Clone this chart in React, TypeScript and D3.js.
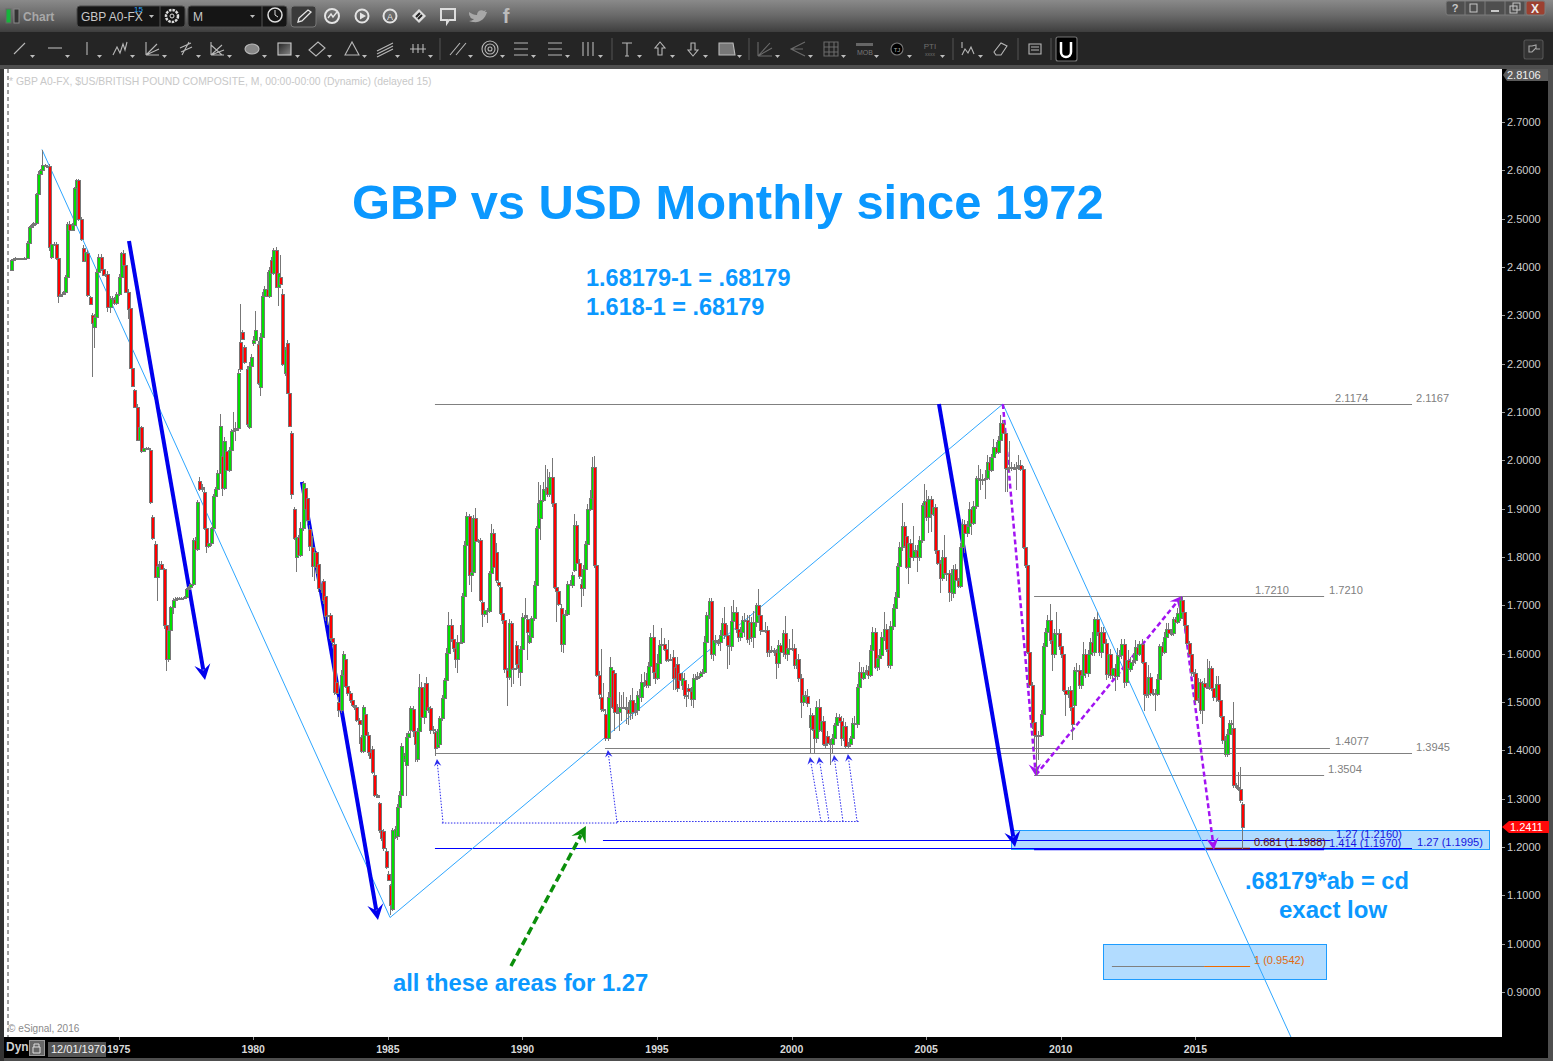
import React from "react";
import * as d3 from "d3";

// Monthly closes, Jan 1971 .. Oct 2016
const closes: number[] = [
  2.4145,2.416,2.418,2.418,2.417,2.418,2.419,2.45,2.482,2.487,2.49,2.551,
  2.592,2.6,2.611,2.61,2.61,2.442,2.448,2.447,2.418,2.34,2.345,2.348,
  2.379,2.489,2.477,2.487,2.563,2.58,2.4987,2.457,2.413,2.432,2.342,2.323,
  2.285,2.297,2.39,2.421,2.395,2.384,2.386,2.317,2.335,2.333,2.325,2.344,
  2.38,2.428,2.404,2.349,2.314,2.192,2.154,2.11,2.042,2.07,2.019,2.025,
  2.026,2.026,1.914,1.839,1.759,1.781,1.786,1.775,1.659,1.588,1.649,1.697,
  1.712,1.714,1.716,1.716,1.716,1.718,1.733,1.737,1.744,1.836,1.816,1.914,
  1.94,1.945,1.861,1.823,1.828,1.86,1.926,1.94,1.974,2.072,1.942,2.04,
  1.98,2.021,2.06,2.063,2.066,2.18,2.188,2.252,2.204,2.075,2.195,2.214,
  2.25,2.27,2.16,2.256,2.34,2.354,2.34,2.393,2.387,2.435,2.359,2.387,
  2.365,2.2,2.23,2.14,2.071,1.93,1.839,1.842,1.804,1.859,1.954,1.9,
  1.877,1.822,1.781,1.81,1.78,1.735,1.733,1.711,1.678,1.68,1.632,1.625,
  1.521,1.519,1.483,1.556,1.6,1.533,1.518,1.505,1.494,1.49,1.463,1.455,
  1.399,1.489,1.432,1.397,1.385,1.356,1.307,1.304,1.235,1.218,1.197,1.158,
  1.132,1.08,1.235,1.238,1.283,1.307,1.408,1.39,1.427,1.435,1.487,1.44,
  1.414,1.439,1.532,1.469,1.532,1.483,1.49,1.442,1.445,1.404,1.439,1.466,
  1.509,1.545,1.602,1.659,1.63,1.611,1.59,1.624,1.625,1.719,1.825,1.885,
  1.763,1.77,1.88,1.834,1.835,1.711,1.683,1.69,1.689,1.766,1.85,1.78,
  1.752,1.742,1.685,1.67,1.569,1.551,1.663,1.568,1.57,1.578,1.57,1.61,
  1.676,1.679,1.645,1.638,1.673,1.742,1.859,1.911,1.918,1.94,1.94,1.93,
  1.965,1.911,1.738,1.73,1.703,1.621,1.683,1.683,1.745,1.745,1.763,1.866,
  1.787,1.76,1.735,1.776,1.826,1.9,1.923,1.987,1.783,1.556,1.517,1.485,
  1.485,1.425,1.511,1.572,1.49,1.48,1.48,1.49,1.49,1.49,1.485,1.477,
  1.504,1.48,1.483,1.514,1.51,1.542,1.542,1.535,1.574,1.634,1.563,1.55,
  1.58,1.618,1.62,1.61,1.587,1.59,1.59,1.549,1.55,1.53,1.545,1.549,
  1.514,1.515,1.522,1.507,1.549,1.55,1.554,1.559,1.563,1.625,1.68,1.71,
  1.6,1.628,1.625,1.625,1.639,1.663,1.639,1.618,1.615,1.668,1.687,1.652,
  1.635,1.645,1.67,1.669,1.63,1.666,1.635,1.666,1.7,1.68,1.649,1.65,
  1.648,1.604,1.607,1.607,1.604,1.58,1.618,1.604,1.642,1.6,1.612,1.61,
  1.611,1.576,1.59,1.55,1.5,1.514,1.512,1.497,1.473,1.445,1.425,1.49,
  1.443,1.461,1.414,1.414,1.416,1.413,1.425,1.452,1.47,1.461,1.425,1.451,
  1.41,1.413,1.425,1.456,1.455,1.532,1.563,1.55,1.563,1.566,1.556,1.607,
  1.645,1.573,1.592,1.597,1.634,1.652,1.609,1.576,1.658,1.694,1.718,1.782,
  1.821,1.864,1.823,1.78,1.83,1.8,1.815,1.815,1.8,1.835,1.907,1.916,
  1.882,1.919,1.89,1.904,1.815,1.788,1.756,1.8,1.766,1.766,1.728,1.765,
  1.776,1.752,1.74,1.821,1.868,1.849,1.865,1.899,1.871,1.905,1.963,1.962,
  1.96,1.961,1.964,1.996,1.98,2.006,2.027,2.018,2.043,2.078,2.056,1.985,
  1.985,1.986,1.985,1.984,1.987,1.99,1.983,1.821,1.783,1.604,1.536,1.456,
  1.431,1.43,1.432,1.475,1.616,1.645,1.67,1.628,1.6,1.642,1.642,1.616,
  1.6,1.525,1.517,1.525,1.49,1.454,1.566,1.566,1.535,1.555,1.6,1.559,
  1.6,1.624,1.604,1.671,1.645,1.604,1.645,1.623,1.558,1.6,1.556,1.57,
  1.553,1.597,1.597,1.621,1.542,1.587,1.57,1.583,1.587,1.613,1.6,1.621,
  1.583,1.516,1.516,1.551,1.518,1.518,1.517,1.547,1.616,1.604,1.635,1.652,
  1.642,1.642,1.671,1.666,1.685,1.711,1.687,1.66,1.622,1.6,1.563,1.56,
  1.504,1.542,1.483,1.539,1.532,1.532,1.57,1.53,1.511,1.538,1.504,1.471,
  1.421,1.421,1.434,1.457,1.456,1.328,1.325,1.32,1.297,1.2411,
];

// Upper wick length of each candle, in thousandths of a dollar
const wickUp: number[] = [
  3,2,2,1,1,1,2,3,3,2,3,3, 6,3,31,2,2,3,18,3,5,3,8,3,
  4,5,6,5,3,2,3,5,5,4,5,4, 3,5,5,6,5,4,8,6,5,5,5,5,
  6,4,8,3,5,3,3,3,6,4,2,2, 2,2,3,5,8,3,5,6,3,3,2,2,
  4,3,2,2,2,2,3,3,3,3,5,3, 8,6,5,3,4,3,4,4,5,24,5,8,
  5,6,4,36,14,8,80,4,3,5,8,5, 8,40,6,8,8,6,36,8,6,5,6,12,
  46,10,5,6,4,4,4,5,3,14,3,8, 8,10,24,7,3,5,10,5,8,3,5,3,
  4,3,10,10,6,5,3,5,3,5,3,3, 5,5,10,6,5,8,4,3,3,3,3,5,
  5,3,5,5,5,8,8,4,8,5,5,6, 8,8,26,10,8,11,8,5,5,5,5,5,
  5,5,10,27,12,6,6,15,34,6,8,8, 5,5,7,22,3,4,5,3,5,5,19,8,
  18,8,8,5,5,5,8,5,15,8,5,5, 8,36,5,8,5,8,5,45,30,15,50,38,
  10,40,5,5,6,8,6,8,6,8,6,23, 8,8,10,8,7,10,15,20,22,10,8,98,
  55,10,10,22,6,8,15,30,25,30,20,15, 10,25,15,8,12,15,20,15,8,8,25,15,
  20,10,34,12,10,38,10,14,10,15,18,10, 15,10,10,10,8,8,8,5,6,12,6,6,
  5,20,10,5,10,10,33,20,15,30,25,10, 15,10,8,15,10,15,10,22,5,33,8,10,
  15,10,5,8,5,5,10,5,8,35,12,18, 41,8,10,10,8,8,8,15,15,5,8,12,
  16,15,10,10,10,8,8,5,8,5,10,15, 8,5,5,10,15,5,20,10,10,10,8,10,
  10,8,8,12,10,34,10,10,10,8,10,5, 10,47,8,8,8,8,50,10,10,8,5,36,
  22,8,8,8,5,5,5,15,46,8,8,10, 8,10,5,8,10,8,10,15,5,10,5,27,
  20,10,15,15,10,8,18,10,8,15,5,5, 20,55,10,8,10,22,10,5,8,5,5,5,
  5,5,8,8,6,8,10,33,8,10,45,10, 15,8,6,6,8,8,6,15,10,10,25,10,
  8,8,20,5,15,10,10,10,8,10,10,10, 8,15,10,10,10,8,20,10,15,15,8,5,
  10,10,10,25,8,8,8,10,5,8,10,12, 12,10,5,5,10,8,6,8,6,5,5,5,
  8,8,5,5,10,58,15,5,25,15,15,5, 5,8,10,5,5,52,5,30,45,5,
];

// Lower wick length of each candle, in thousandths of a dollar
const wickDown: number[] = [
  1,1,1,1,1,1,1,1,1,1,1,3, 3,3,2,1,1,8,3,1,3,14,3,3,
  3,22,5,3,3,3,3,3,3,3,5,2, 112,43,3,3,3,3,5,10,12,3,3,3,
  3,5,3,3,22,3,3,2,3,3,3,2, 2,2,5,3,3,50,2,2,8,23,5,5,
  15,3,2,2,2,2,3,3,3,4,5,3, 3,5,5,15,5,5,3,3,3,3,15,3,
  3,5,8,27,24,5,5,4,4,5,5,3, 5,5,5,19,3,3,3,5,3,3,3,40,
  3,4,6,3,3,10,4,32,4,4,5,5, 8,10,22,32,15,8,8,8,10,18,5,10,
  6,5,15,5,5,5,5,8,5,6,5,41, 5,5,6,8,3,5,3,3,5,5,5,3,
  3,20,3,5,8,5,5,8,65,5,8,12, 38,8,10,12,15,5,5,8,8,15,3,8,
  5,8,38,8,5,8,20,30,5,5,5,6, 20,36,5,5,5,5,28,8,26,5,5,5,
  5,5,5,8,8,59,5,36,30,12,20,30, 5,5,58,5,5,5,5,8,45,5,5,5,
  5,8,5,64,5,18,20,8,6,6,6,5, 5,5,38,15,5,5,5,5,5,5,10,5,
  5,5,5,10,5,40,5,40,30,5,30,25, 15,15,8,10,5,10,10,5,5,5,15,12,
  5,5,5,5,5,5,5,25,25,10,15,10, 8,25,15,15,20,5,5,5,5,5,15,8,
  12,15,30,10,20,10,8,50,38,10,10,10, 10,8,10,35,8,15,10,24,10,8,10,5,
  5,10,10,6,8,33,10,8,10,10,15,5, 5,8,8,8,34,8,8,8,53,5,31,10,
  5,5,5,10,5,43,18,10,10,5,17,5, 8,5,5,5,5,8,17,8,5,8,8,5,
  5,5,8,25,8,8,5,5,8,8,5,5, 5,8,5,5,35,5,8,8,31,8,5,5,
  8,33,38,5,8,5,30,5,5,15,22,20, 10,5,5,5,5,40,8,10,25,5,5,5,
  22,10,42,5,20,5,5,5,5,5,5,50, 51,10,8,5,46,8,5,5,5,5,8,12,
  30,80,50,5,5,8,8,8,35,8,8,8, 8,5,45,8,8,32,5,5,8,8,8,10,
  8,8,8,8,8,8,12,8,12,8,8,8, 31,8,8,8,14,8,8,5,8,8,8,5,
  5,34,8,8,5,5,36,5,5,8,5,5, 8,5,5,8,5,5,8,8,5,5,10,8,
  8,10,8,28,5,5,8,8,8,10,5,5, 8,5,5,8,8,5,5,5,5,46,
];

// Where an open differs from the previous close (gaps seen in the picture)
const openGaps: [number, number][] = [
  [18,2.42],[32,2.44],[34,2.43],[35,2.337],[36,2.301],[37,2.276],[53,2.316],[55,2.145],
  [62,2.022],[63,1.882],[64,1.826],[84,1.958],[86,1.935],[94,2.01],[96,2.02],[102,2.244],
  [103,2.266],[104,2.235],[105,2.19],[106,2.07],[108,2.242],[110,2.24],[111,2.152],[116,2.414],
  [120,2.379],[121,2.345],[122,2.18],[123,2.243],[125,2.056],[126,1.9],[127,1.8],[131,1.942],
  [132,1.923],[133,1.857],[134,1.82],[135,1.782],[136,1.81],[137,1.785],[139,1.75],[140,1.72],
  [144,1.621],[145,1.542],[146,1.501],[147,1.483],[149,1.588],[156,1.427],[158,1.476],[161,1.402],
  [162,1.349],[164,1.29],[166,1.234],[167,1.192],[168,1.145],[169,1.121],[170,1.071],[171,1.221],
  [172,1.222],[175,1.383],[176,1.37],[178,1.442],[179,1.485],[181,1.383],[185,1.54],[187,1.487],
  [189,1.438],[190,1.407],[191,1.414],[210,1.707],[216,1.81],[217,1.749],[218,1.738],[221,1.566],
  [225,1.618],[227,1.563],[230,1.672],[231,1.625],[232,1.635],[236,1.88],[239,1.945],[245,1.694],
  [250,1.742],[251,1.773],[254,1.745],[263,1.511],[265,1.475],[266,1.425],[268,1.566],[269,1.559],
  [283,1.545],[295,1.594],[296,1.573],[297,1.578],[298,1.56],[299,1.535],[300,1.545],[302,1.528],
  [319,1.639],[329,1.632],[356,1.448],[364,1.43],[371,1.425],[399,1.843],[420,1.725],[456,1.459],
  [474,1.494],[478,1.556],[499,1.568],[521,1.673],[528,1.56],[529,1.508],[531,1.483],[541,1.392],
  [542,1.392],[545,1.447],[549,1.288],
];

const priceTicks = [2.7,2.6,2.5,2.4,2.3,2.2,2.1,2.0,1.9,1.8,1.7,1.6,1.5,1.4,1.3,1.2,1.1,1.0,0.9];
const yearTicks = [1975,1980,1985,1990,1995,2000,2005,2010,2015];

// Horizontal levels as [price, first month, last month], months counted from Jan 1971
const greyLevels: [number, number, number][] = [
  [2.1174,189,624.6],[1.7195,456.1,585.4],[1.4055,264.8,588],[1.3945,189,624.6],[1.3495,456.1,585.4],
];
const blueLevels: [number, number, number][] = [
  [1.2145,263.9,588],[1.1975,189,624.6],
];
const blueHeavyLevel: [number, number, number] = [1.196,456.1,585.4];
const brownLevel: [number, number, number] = [1.1975,532.3,552.4];
const targetGrey: [number, number, number] = [0.9528,490.8,531.9];
const targetOrange: [number, number, number] = [0.9528,531.9,552.4];

// Shaded zones as [first month, last month, top price, bottom price]
const zones: [number, number, number, number][] = [
  [446,659,1.2342,1.1959],[487,586.4,1.0002,0.9268],
];

// Straight annotations as [month, price, month, price]
const fanLines: number[][] = [
  [13.8,2.6431,169,1.0541],[169,1.0541,442.2,2.1165],[442.2,2.1165,570.6,0.8069],
];
const boldArrows: number[][] = [
  [52.6,2.4538,86.5,1.5455],[129.7,1.9552,163.6,1.0489],[413.7,2.1165,447.6,1.2],
];
const abcdArrows: number[][] = [
  [442.2,2.1165,456.9,1.3469],[456.9,1.349,522,1.7193],[521.6,1.7172,536.3,1.1938],
];
const dottedRuns: number[][] = [
  [192.1,1.2496,270.2,1.2496],[270.2,1.2527,378,1.2527],
];
const dottedArrows: number[][] = [
  [192.6,1.2496,189.9,1.3821],[270.2,1.2496,266.1,1.4007],[361.1,1.2527,356.2,1.3862],
  [364.7,1.2527,360.2,1.3862],[370.9,1.2527,366.9,1.3903],[377.2,1.2527,373.1,1.3924],
];
const greenArrow: number[] = [222.9,0.9537,256.3,1.2435];

// Value labels as [text, month, price]
const greyLabels: [string, number, number][] = [
  ["2.1174",590.3,2.1207],["2.1167",626.4,2.1207],["1.7210",554.6,1.7234],["1.7210",587.6,1.7234],
  ["1.4077",590.3,1.4118],["1.3945",626.4,1.3994],["1.3504",587.1,1.3539],
];
const blueLabels: [string, number, number][] = [
  ["1.27 (1.2160)",590.7,1.2186],["1.414 (1.1970)",587.6,1.2],["1.27 (1.1995)",626.8,1.202],
];
const brownLabel: [string, number, number] = ["0.681 (1.1988)",554.1,1.202];
const orangeLabel: [string, number, number] = ["1 (0.9542)",554.1,0.9579];

const row2Icons: [number, string][] = [
  [20,"M-6 5L5-6"],[55,"M-7-1H7"],[87,"M0-7V6"],[120,"M-7 6L-3-2L0 4L3-5L5 1L7-7"],
  [152,"M-6 6V-7M-6 6L7 0M-6 6L5-5M-6 6H7"],[186,"M-6-1L5-6M-5 3L6-2M-4 6L3-7"],
  [217,"M-6 6V-7M-6 6L7 1M-6 6L5-4M-6 6H7M-6-4L5 6"],
  [317,"M-8 1L1-7L8-1L-1 7Z"],[352,"M-7 6L0-7L7 6Z"],[385,"M-8 2L8-6M-8 5L8-3M-8 8L8 0"],
  [418,"M-8 0H8M-5-5V4M0-5V4M5-5V4"],[458,"M-8 6L2-6M-2 6L8-6"],[521,"M-7-6H7M-7 0H7M-7 6H7"],
  [555,"M-7-6H7M-7 0H7M-7 6H7"],[588,"M-5-7V7M0-7V7M5-7V7"],[627,"M-5-6H5M0-6V7M-2 7H2"],
  [660,"M0-7L5-1H2V6H-2V-1H-5Z"],[693,"M0 7L5 1H2V-6H-2V1H-5Z"],
  [968,"M-6-7V-1M-6 6L-3 0L0 4L3-2L6 5"],[1001,"M-7 3L0-6L6-3L0 6H-5Z"],[1034,"M-5-5H7V5H-5ZM-3-2H5M-3 1H5"],
];
const dimIcons: [number, string][] = [
  [765,"M-7 7V-7M-7 7H7M-7 7L5-6M-7 7L7-1"],[798,"M7-7L-7 0L7 7M-7 0H5"],
  [831,"M-7-7H7V7H-7ZM-7-2H7M-7 3H7M-2-7V7M3-7V7"],
];
const dropdownMarks = [20,55,87,120,152,186,217,252,285,317,352,385,418,458,490,521,555,588,627,660,693,727,765,798,831,864,897,930,968];

const titleColor = "#0b98ff";
const mainFont = "'Liberation Sans', Arial, sans-serif";
const candleColors = { up: "#00e000", down: "#ff0000", edge: "#777777" };

const x = d3.scaleLinear().domain([0, 549]).range([11, 11 + 2.2431 * 549]);
const y = d3.scaleLinear().domain([2.7, 0.9]).range([122, 992]);
const xYear = (yr: number) => x((yr - 1971) * 12);
const snap = (v: number) => Math.round(v) + 0.5;

const gapMap = new Map(openGaps);
const candles = closes.map((c, i) => {
  const o = gapMap.get(i) ?? (i > 0 ? closes[i - 1] : 2.394);
  const top = Math.max(o, c);
  const bot = Math.min(o, c);
  return { i, o, c, hi: top + (wickUp[i] ?? 0) / 1000, lo: bot - (wickDown[i] ?? 0) / 1000, top, bot };
});

function Arrow({ seg, color, w, dash, size }: any) {
  const [m1, p1, m2, p2] = seg;
  const x1 = x(m1), y1 = y(p1), x2 = x(m2), y2 = y(p2);
  const a = Math.atan2(y2 - y1, x2 - x1);
  const bx = x2 - Math.cos(a) * size * 0.8;
  const by = y2 - Math.sin(a) * size * 0.8;
  const pt = (d: number, s: number) =>
    `${x2 - Math.cos(a) * d - Math.sin(a) * s},${y2 - Math.sin(a) * d + Math.cos(a) * s}`;
  return (
    <g>
      <line x1={x1} y1={y1} x2={bx} y2={by} stroke={color} strokeWidth={w} strokeDasharray={dash} />
      <polygon points={`${x2},${y2} ${pt(size * 1.2, size * 0.62)} ${pt(size * 0.75, 0)} ${pt(size * 1.2, -size * 0.62)}`} fill={color} />
    </g>
  );
}

function Level({ lv, stroke, w = 1 }: any) {
  const [p, m0, m1] = lv;
  return <line x1={x(m0)} x2={x(m1)} y1={snap(y(p))} y2={snap(y(p))} stroke={stroke} strokeWidth={w} />;
}

function Label({ lb, fill }: any) {
  return <text x={x(lb[1])} y={y(lb[2])} fontSize={11.1} fill={fill}>{lb[0]}</text>;
}

function Tri({ x, y }: { x: number; y: number }) {
  return <polygon points={`${x},${y} ${x + 5},${y} ${x + 2.5},${y + 3}`} fill="#bdbdbd" />;
}

export default function App() {
  const lightBlue = "#2ea6ff";
  const royal = "#0000ee";
  const purple = "#a213f2";
  const dotted = "#2a2aee";
  return (
    <svg width={1553} height={1061} style={{ position: "absolute", left: 0, top: 0, display: "block" }} fontFamily={mainFont}>
      <defs>
        <linearGradient id="topbar" x1="0" x2="0" y1="0" y2="1">
          <stop offset="0" stopColor="#8a8a8a" />
          <stop offset="0.5" stopColor="#686868" />
          <stop offset="1" stopColor="#3e3e3e" />
        </linearGradient>
        <linearGradient id="rectIcon" x1="0" x2="1" y1="0" y2="1">
          <stop offset="0" stopColor="#222" />
          <stop offset="1" stopColor="#888" />
        </linearGradient>
      </defs>

      {/* window frame */}
      <rect x={0} y={0} width={1553} height={1061} fill="#4e4e4e" />
      <rect x={0} y={0} width={1553} height={32} fill="url(#topbar)" />
      <rect x={0} y={32} width={1553} height={33} fill="#252525" />
      <rect x={0} y={69} width={4} height={992} fill="#333" />
      <rect x={4} y={69} width={1498} height={968} fill="#ffffff" />
      <rect x={1502} y={69} width={46} height={968} fill="#000" />
      <rect x={4} y={1037} width={1544} height={21} fill="#000" />

      {/* first toolbar */}
      <rect x={6} y={9} width={5} height={14} fill="#16b43c" stroke="#666" />
      <rect x={14} y={9} width={5} height={14} fill="#333" stroke="#888" />
      <text x={23} y={21} fontSize={12} fontWeight="bold" fill="#a8a8a8">Chart</text>
      <rect x={77} y={6} width={108} height={21} rx={3} fill="#151515" stroke="#4a4a4a" />
      <line x1={160} y1={6} x2={160} y2={27} stroke="#555" />
      <text x={81} y={21} fontSize={12} fill="#c8c8c8">GBP A0-FX</text>
      <text x={134} y={12} fontSize={8} fill="#2ea6ff">15</text>
      <Tri x={149} y={15} />
      <circle cx={172} cy={16} r={6} fill="none" stroke="#ddd" strokeWidth={2.5} strokeDasharray="2.5 1" />
      <circle cx={172} cy={16} r={2} fill="none" stroke="#ddd" />
      <rect x={188} y={6} width={99} height={21} rx={3} fill="#151515" stroke="#4a4a4a" />
      <line x1={262} y1={6} x2={262} y2={27} stroke="#555" />
      <text x={193} y={21} fontSize={12} fill="#c8c8c8">M</text>
      <Tri x={250} y={15} />
      <circle cx={275} cy={15} r={7} fill="none" stroke="#ddd" strokeWidth={1.5} />
      <path d="M275 10V15L278 17" stroke="#ddd" fill="none" />
      <rect x={291} y={6} width={25} height={21} rx={3} fill="#3a3a3a" stroke="#777" />
      <path d="M298 22L299 18L308 10L311 12L302 21Z" fill="none" stroke="#e6e6e6" strokeWidth={1.3} />
      <circle cx={332} cy={16} r={7} fill="none" stroke="#e4e4e4" strokeWidth={2} />
      <path d="M328 18L331 14L333 17L337 12" fill="none" stroke="#e4e4e4" strokeWidth={1.4} />
      <circle cx={362} cy={16} r={6.5} fill="none" stroke="#e4e4e4" strokeWidth={2} />
      <polygon points="360,12.5 360,19.5 366,16" fill="#e4e4e4" />
      <circle cx={390} cy={16} r={6.5} fill="none" stroke="#e4e4e4" strokeWidth={2} />
      <text x={390} y={20} fontSize={9} fill="#e4e4e4" textAnchor="middle">A</text>
      <path d="M412 16L419 9L426 16L419 23Z" fill="#ddd" />
      <path d="M416 17L420 13M418 19L422 15" stroke="#222" strokeWidth={2} />
      <path d="M441 9H455V20H449L447 23V20H441Z" fill="none" stroke="#ddd" strokeWidth={2} />
      <path d="M469 12C472 14 474 15 477 15C477 11 481 9 484 11L486 10L485 12L487 12C485 19 480 23 473 22C471 22 470 21 469 21C471 21 473 20 474 19C471 19 470 17 470 16C469 16 469 13 469 12Z" fill="#a8a8a8" />
      <text x={506} y={23} fontSize={20} fontWeight="bold" fill="#bcbcbc" textAnchor="middle">f</text>

      {/* window buttons */}
      <rect x={1446} y={1} width={99} height={14} rx={2} fill="#4f4f4f" stroke="#7c7c7c" />
      <rect x={1526} y={1} width={19} height={14} rx={2} fill="#9c4030" stroke="#7c7c7c" />
      {[1465, 1485, 1505, 1525].map((v) => <line key={v} x1={v} y1={1} x2={v} y2={15} stroke="#7c7c7c" />)}
      <text x={1455} y={12} fontSize={11} fontWeight="bold" fill="#c8c8c8" textAnchor="middle">?</text>
      <rect x={1470} y={4} width={7} height={8} fill="none" stroke="#c8c8c8" />
      <line x1={1491} y1={11} x2={1499} y2={11} stroke="#c8c8c8" strokeWidth={2} />
      <rect x={1510} y={6} width={7} height={7} fill="none" stroke="#c8c8c8" />
      <rect x={1513} y={3} width={7} height={7} fill="none" stroke="#c8c8c8" />
      <text x={1535} y={13} fontSize={12} fontWeight="bold" fill="#eee" textAnchor="middle">X</text>

      {/* drawing toolbar */}
      <g fill="none" stroke="#b8b8b8" strokeWidth={1.1} transform="translate(0,49)">
        {row2Icons.map(([cx, d]) => <path key={cx} d={d} transform={`translate(${cx},0)`} />)}
        {dimIcons.map(([cx, d]) => <path key={cx} d={d} transform={`translate(${cx},0)`} stroke="#6b6b6b" />)}
        <ellipse cx={252} cy={0} rx={7} ry={5} fill="#888" stroke="#bbb" />
        <rect x={278} y={-6} width={13} height={12} fill="url(#rectIcon)" stroke="#ccc" />
        <circle cx={490} cy={0} r={8} />
        <circle cx={490} cy={0} r={5} />
        <circle cx={490} cy={0} r={2} />
        <path d="M719-6H733L735 6H719Z" fill="#777" stroke="#bbb" />
        <circle cx={897} cy={0} r={6} fill="#000" stroke="#777" />
        <rect x={1056} y={-12} width={21} height={24} rx={2} fill="#000" stroke="#777" />
        <path d="M1061-7V3A5 5 0 0 0 1071 3V-7" stroke="#fff" strokeWidth={2.5} />
        <rect x={1524} y={-9} width={19} height={19} rx={2} fill="#333" stroke="#555" />
        <path d="M1529-3V3H1532L1536-1V-4L1532-3ZM1536 0H1540" stroke="#aaa" />
      </g>
      <text x={865} y={55} fontSize={7} fill="#777" textAnchor="middle">MOB</text>
      <rect x={856} y={43} width={17} height={3} fill="#666" />
      <text x={897} y={52} fontSize={6} fill="#aaa" textAnchor="middle">TJ</text>
      <text x={930} y={49} fontSize={8} fill="#6e6e6e" textAnchor="middle">PTI</text>
      <text x={930} y={56} fontSize={5} fill="#6e6e6e" textAnchor="middle">xxxx</text>
      {[440, 612, 749, 953, 1018, 1051].map((v) => <line key={v} x1={v} y1={38} x2={v} y2={60} stroke="#555" />)}
      {dropdownMarks.map((v) => <Tri key={v} x={v + 10} y={55} />)}

      {/* chart heading */}
      <line x1={8} y1={69} x2={8} y2={1037} stroke="#444" strokeDasharray="4 3" />
      <text x={9} y={85} fontSize={10.4} fill="#c8c8c8">* GBP A0-FX, $US/BRITISH POUND COMPOSITE, M, 00:00-00:00 (Dynamic) (delayed 15)</text>
      <text x={8} y={1032} fontSize={10} fill="#8a8a8a">© eSignal, 2016</text>

      {/* shaded zones */}
      {zones.map((z, k) => (
        <rect key={k} x={snap(x(z[0]))} y={snap(y(z[2]))} width={Math.round(x(z[1]) - x(z[0]))} height={Math.round(y(z[3]) - y(z[2]))} fill="#b2dcff" stroke="#1d9cff" />
      ))}
      <Level lv={targetGrey} stroke="#808080" />
      <Level lv={targetOrange} stroke="#ee6a00" />

      {/* levels */}
      {greyLevels.map((l, k) => <Level key={k} lv={l} stroke="#808080" />)}
      {blueLevels.map((l, k) => <Level key={k} lv={l} stroke="#0000ff" />)}
      <Level lv={blueHeavyLevel} stroke="#0000ff" w={1.5} />
      <Level lv={brownLevel} stroke="#7a1010" w={1.5} />

      {/* trend lines and arrows, under the candles */}
      <g stroke={lightBlue} strokeWidth={1} fill="none">
        {fanLines.map((s, k) => <line key={k} x1={x(s[0])} y1={y(s[1])} x2={x(s[2])} y2={y(s[3])} />)}
      </g>
      {boldArrows.map((s, k) => <Arrow key={k} seg={s} color={royal} w={4} size={13} />)}
      {abcdArrows.map((s, k) => <Arrow key={k} seg={s} color={purple} w={2.5} dash="5 3" size={10} />)}

      {/* candles */}
      <g shapeRendering="crispEdges">
        {candles.map((k) => {
          const cx = Math.round(x(k.i));
          const top = Math.round(y(k.top));
          const h = Math.max(1, Math.round(y(k.bot)) - top);
          return (
            <g key={k.i}>
              <rect x={cx} y={y(k.hi)} width={1} height={y(k.lo) - y(k.hi)} fill={candleColors.edge} />
              <rect x={cx - 1} y={top} width={4} height={h + 1} fill={candleColors.edge} />
              {h > 2 && (
                <rect x={cx} y={top + 1} width={2} height={h - 1} fill={k.c >= k.o ? candleColors.up : candleColors.down} />
              )}
            </g>
          );
        })}
      </g>

      {/* dotted guides */}
      <g stroke={dotted} strokeWidth={1} strokeDasharray="1.5 1.5" fill="none">
        {dottedRuns.map((s, k) => <line key={k} x1={x(s[0])} y1={y(s[1])} x2={x(s[2])} y2={y(s[3])} />)}
      </g>
      {dottedArrows.map((s, k) => <Arrow key={k} seg={s} color={dotted} w={1} dash="1.5 1.5" size={6} />)}
      <Arrow seg={greenArrow} color="#0b8f0b" w={3.5} dash="8 4" size={13} />

      {/* level labels */}
      {greyLabels.map((l, k) => <Label key={k} lb={l} fill="#808080" />)}
      {blueLabels.map((l, k) => <Label key={k} lb={l} fill="#1414e0" />)}
      <Label lb={brownLabel} fill="#5a1010" />
      <Label lb={orangeLabel} fill="#e06a10" />

      {/* headline text */}
      <text x={352} y={219} fontSize={48.9} fontWeight="bold" fill={titleColor}>GBP vs USD Monthly since 1972</text>
      <text x={586} y={286} fontSize={23.5} fontWeight="bold" fill={titleColor}>1.68179-1 = .68179</text>
      <text x={586} y={315} fontSize={23.5} fontWeight="bold" fill={titleColor}>1.618-1 = .68179</text>
      <text x={393} y={991} fontSize={23.8} fontWeight="bold" fill={titleColor}>all these areas for 1.27</text>
      <text x={1245} y={889} fontSize={23.7} fontWeight="bold" fill={titleColor}>.68179*ab = cd</text>
      <text x={1279} y={918} fontSize={24} fontWeight="bold" fill={titleColor}>exact low</text>

      {/* price axis */}
      {priceTicks.map((p) => (
        <g key={p}>
          <line x1={1502} x2={1505} y1={snap(y(p))} y2={snap(y(p))} stroke="#999" />
          <text x={1507} y={y(p) + 4} fontSize={11} fill="#cfcfcf">{p.toFixed(4)}</text>
        </g>
      ))}
      <polygon points="1503,75 1507,69 1548,69 1548,81 1507,81" fill="#5a5a5a" />
      <text x={1507} y={79} fontSize={11} fill="#f0f0f0">2.8106</text>
      <polygon points="1502,827 1509,821 1549,821 1549,833 1509,833" fill="#ff0a0a" />
      <text x={1510} y={831} fontSize={11} fill="#ffffff">1.2411</text>

      {/* time axis */}
      {yearTicks.map((yr) => (
        <g key={yr}>
          <line x1={snap(xYear(yr))} x2={snap(xYear(yr))} y1={1037} y2={1040} stroke="#999" />
          <text x={xYear(yr)} y={1053} fontSize={10.5} fontWeight="bold" fill="#d8d8d8" textAnchor="middle">{yr}</text>
        </g>
      ))}
      <text x={6} y={1051} fontSize={12} fontWeight="bold" fill="#d0d0d0">Dyn</text>
      <rect x={29.5} y={1040.5} width={15} height={15} fill="#666" stroke="#999" />
      <path d="M34 1047V1044H39V1047M33 1047H40V1053H33Z" fill="none" stroke="#ddd" />
      <rect x={48} y={1042} width={58} height={15} fill="#555" />
      <text x={51} y={1053} fontSize={11} fill="#f2f2f2">12/01/1970</text>
    </svg>
  );
}
